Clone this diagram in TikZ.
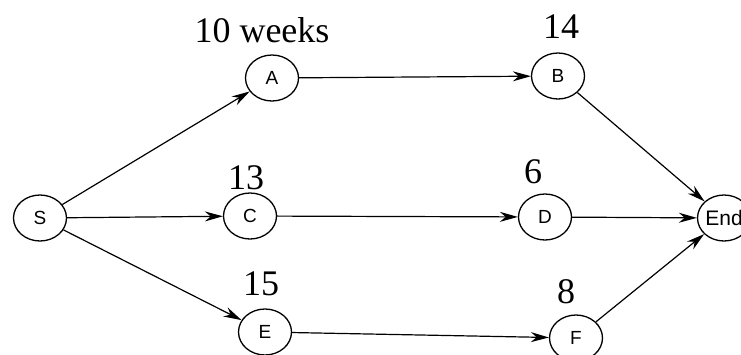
\documentclass[tikz,border=0pt]{standalone}
\usepackage{fontspec}
\setmainfont{Liberation Serif}
\setsansfont{Liberation Sans}
\usetikzlibrary{shapes.geometric,arrows.meta}
\tikzset{
  event/.style={draw, ellipse, line width=1.3pt, minimum width=53pt,
    minimum height=46pt, inner sep=0pt,
    font=\sffamily\fontsize{19}{19}\selectfont},
  dur/.style={font=\fontsize{36}{36}\selectfont},
  act/.style={-{Stealth[length=18pt,width=10pt]}, line width=1.2pt}
}
\begin{document}
\begin{tikzpicture}[x=1pt,y=-1pt]
  \useasboundingbox (0,0) rectangle (741,354);

  \node[event] (S) at (40,218) {S};
  \node[event] (A) at (272,78) {A};
  \node[event] (B) at (558,76) {B};
  \node[event] (C) at (250,216) {C};
  \node[event] (D) at (545,217) {D};
  \node[event] (E) at (265,332) {E};
  \node[event] (F) at (576,338) {F};
  \node[event, font=\sffamily\fontsize{21}{21}\selectfont] (End) at (724,218) {End};

  \node[dur] (tA) at (262,30) {10 weeks};
  \node[dur] (tB) at (561,27) {14};
  \node[dur] (tC) at (246,178) {13};
  \node[dur] (tD) at (533,172) {6};
  \node[dur] (tE) at (261,284) {15};
  \node[dur] (tF) at (566,292) {8};

  \draw[act] (S) -- (A);
  \draw[act] (S) -- (C);
  \draw[act] (S) -- (E);
  \draw[act] (A) -- (B);
  \draw[act] (C) -- (D);
  \draw[act] (E) -- (F);
  \draw[act] (B) -- (End);
  \draw[act] (D) -- (End);
  \draw[act] (F) -- (End);
\end{tikzpicture}
\end{document}
